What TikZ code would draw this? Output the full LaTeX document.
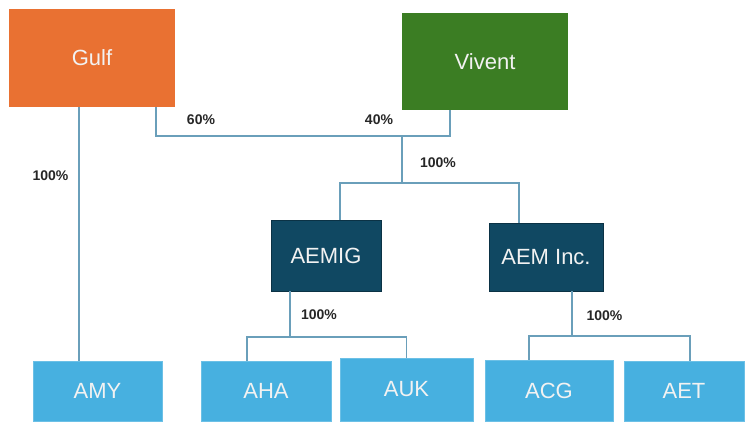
\documentclass[tikz,border=0pt]{standalone}
\usepackage{fontspec}
\setmainfont{Liberation Sans}
\definecolor{gulforange}{HTML}{E97132}
\definecolor{viventgreen}{HTML}{3B7D23}
\definecolor{holddark}{HTML}{104862}
\definecolor{sublight}{HTML}{47B0E0}
\definecolor{linkblue}{HTML}{6A9FBA}
\begin{document}
\begin{tikzpicture}[x=1pt, y=-1pt,
    entity/.style={rectangle, inner sep=0pt, text=white!95!black,
        font=\fontsize{22}{26}\selectfont},
    parent/.style={entity, minimum width=166pt, minimum height=97pt},
    holding/.style={entity, fill=holddark, draw=holddark!70!black, line width=0.8pt},
    subsidiary/.style={entity, fill=sublight, draw=sublight!80!white, line width=0.6pt},
    link/.style={draw=linkblue, line width=1.8pt},
    share/.style={font=\bfseries\fontsize{14}{16}\selectfont, text=black!85}]
    \useasboundingbox (0,0) rectangle (747,421);

    % Owners at the top
    \node[parent, fill=gulforange, minimum height=98pt] (Gulf) at (92,58) {Gulf};
    \node[parent, fill=viventgreen] (Vivent) at (485,61.5) {Vivent};

    % Holding companies
    \node[holding, minimum width=110pt, minimum height=71pt] (AEMIG) at (326,255.5) {AEMIG};
    \node[holding, minimum width=114pt, minimum height=68pt] (AEMInc) at (546,257) {AEM Inc.};

    % Subsidiaries at the bottom
    \node[subsidiary, minimum width=129pt, minimum height=60pt] (AMY) at (97.5,391) {AMY};
    \node[subsidiary, minimum width=130pt, minimum height=60pt] (AHA) at (266,391) {AHA};
    \node[subsidiary, minimum width=133pt, minimum height=63pt] (AUK) at (406.5,389.5) {AUK};
    \node[subsidiary, minimum width=128pt, minimum height=61pt] (ACG) at (549,390.5) {ACG};
    \node[subsidiary, minimum width=120pt, minimum height=60pt] (AET) at (684,391) {AET};

    % Bus points of the ownership lines
    \coordinate (own) at (402,136);
    \coordinate (sub) at (402,183);
    \coordinate (aemigbus) at (290,337);
    \coordinate (aembus) at (572,336);

    % Ownership lines
    \draw[link] ([xshift=-13pt]Gulf.south) -- ([xshift=-13pt]Gulf.south |- AMY.north);
    \draw[link] ([xshift=-19pt]Gulf.south east) |- (own) -| ([xshift=-35pt]Vivent.south);
    \draw[link] (own) -- (sub);
    \draw[link] ([xshift=14pt]AEMIG.north) |- (sub) -| ([xshift=-27pt]AEMInc.north);
    \draw[link] ([xshift=-36pt]AEMIG.south) -- (aemigbus);
    \draw[link] ([xshift=-19pt]AHA.north) |- (aemigbus) -| (AUK.north);
    \draw[link] ([xshift=26pt]AEMInc.south) -- (aembus);
    \draw[link] ([xshift=-20pt]ACG.north) |- (aembus) -| ([xshift=6pt]AET.north);

    % Shares
    \node[share] (shgulf) at (201,120) {60\%};
    \node[share] (shvivent) at (379,120) {40\%};
    \node[share] (shamy) at (50.5,175.5) {100\%};
    \node[share] (shsub) at (438,162.5) {100\%};
    \node[share] (shaemig) at (319,315) {100\%};
    \node[share] (shaem) at (604.5,316) {100\%};
\end{tikzpicture}
\end{document}
